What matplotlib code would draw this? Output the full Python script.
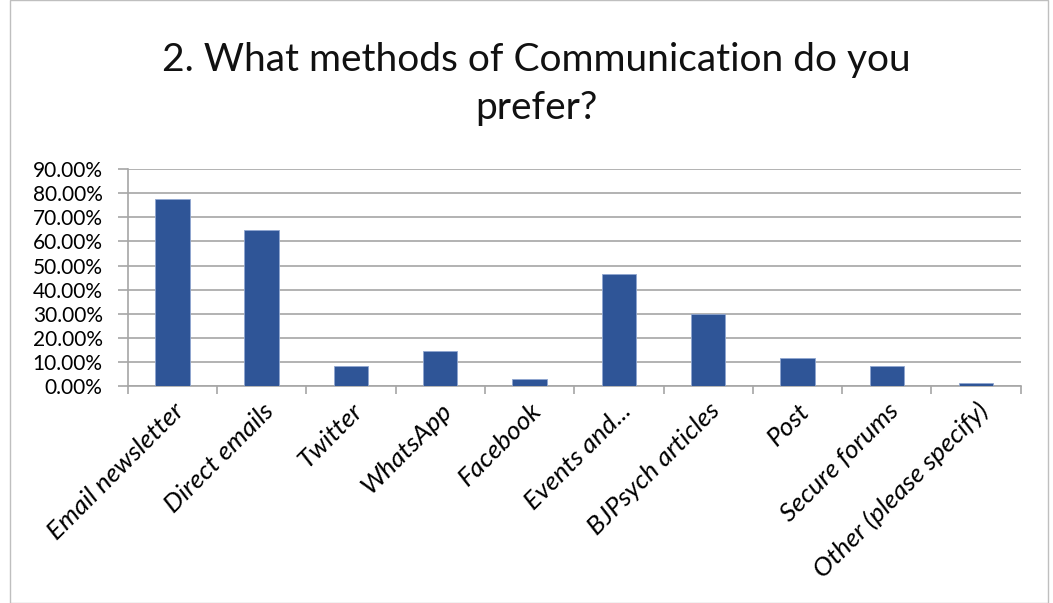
import matplotlib.pyplot as plt
from matplotlib.patches import Rectangle
from matplotlib.ticker import FuncFormatter, FixedLocator

categories = ["Email newsletter", "Direct emails", "Twitter", "WhatsApp", "Facebook",
              "Events and...", "BJPsych articles", "Post", "Secure forums",
              "Other (please specify)"]
values = [77.4, 64.6, 8.3, 14.5, 3.0, 46.4, 29.9, 11.8, 8.3, 1.5]

plt.rcParams['font.family'] = ['Lato', 'DejaVu Sans']

fig = plt.figure(figsize=(10.53, 6.03), dpi=100)
ax = fig.add_axes([127.7 / 1053, 1 - 386.3 / 603, (1020.7 - 127.7) / 1053, (386.3 - 169) / 603])

x = list(range(len(categories)))
ax.bar(x, values, width=0.385, color='#2F5597', edgecolor='#8FA6D0', linewidth=0.6, zorder=3)

ax.set_xlim(-0.5, len(categories) - 0.5)
ax.set_ylim(0, 90)
ax.set_yticks(range(0, 91, 10))
ax.yaxis.set_major_formatter(FuncFormatter(lambda v, p: f"{v:.2f}%"))
ax.yaxis.grid(True, color='#a6a6a6', linewidth=1.2, zorder=0)
ax.tick_params(axis='y', length=7, color='#a6a6a6', width=1.2, labelsize=15, pad=11)

ax.set_xticks(x)
ax.set_xticklabels(categories, rotation=45, ha='right', va='top', rotation_mode='anchor',
                   fontsize=19, style='italic')
ax.tick_params(axis='x', which='major', length=0, pad=9)
ax.xaxis.set_minor_locator(FixedLocator([i - 0.5 for i in range(len(categories) + 1)]))
ax.tick_params(axis='x', which='minor', length=6, color='#a6a6a6', width=1.2)

for s in ['top', 'right']:
    ax.spines[s].set_visible(False)
ax.spines['left'].set_color('#a6a6a6')
ax.spines['bottom'].set_color('#a6a6a6')
ax.spines['left'].set_linewidth(1.2)
ax.spines['bottom'].set_linewidth(1.2)

fig.text(536 / 1053, 1 - 84 / 603, "2. What methods of Communication do you\nprefer?",
         ha='center', va='center', fontsize=28, color='#111111', linespacing=1.38)

fig.patches.append(Rectangle((10 / 1053, 0), 1038 / 1053, 1, transform=fig.transFigure,
                             fill=False, edgecolor='#bfbfbf', linewidth=1))

fig.savefig("out.png", dpi=100)
